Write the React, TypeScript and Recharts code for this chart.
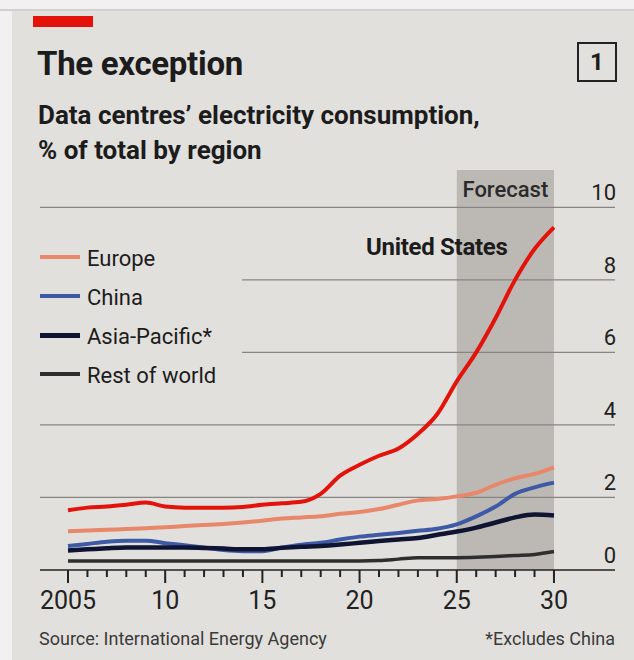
import React from "react";
import { LineChart, Line, XAxis, YAxis, ReferenceArea, ReferenceLine } from "recharts";

const years = [2005, 2006, 2007, 2008, 2009, 2010, 2011, 2012, 2013, 2014, 2015, 2016, 2017, 2018, 2019, 2020, 2021, 2022, 2023, 2024, 2025, 2026, 2027, 2028, 2029, 2030];
const unitedStates = [1.65, 1.72, 1.75, 1.8, 1.86, 1.75, 1.72, 1.72, 1.72, 1.74, 1.8, 1.84, 1.88, 2.1, 2.6, 2.9, 3.15, 3.35, 3.75, 4.3, 5.2, 6.0, 6.95, 8.0, 8.85, 9.45];
const europe = [1.07, 1.09, 1.11, 1.13, 1.15, 1.18, 1.21, 1.24, 1.27, 1.31, 1.36, 1.42, 1.45, 1.48, 1.55, 1.6, 1.68, 1.8, 1.92, 1.96, 2.03, 2.13, 2.35, 2.53, 2.65, 2.83];
const china = [0.66, 0.72, 0.78, 0.81, 0.81, 0.74, 0.68, 0.62, 0.55, 0.52, 0.52, 0.62, 0.7, 0.75, 0.84, 0.92, 0.97, 1.02, 1.08, 1.14, 1.26, 1.48, 1.75, 2.1, 2.28, 2.41];
const asiaPacific = [0.54, 0.57, 0.6, 0.62, 0.62, 0.62, 0.62, 0.61, 0.59, 0.57, 0.57, 0.61, 0.64, 0.66, 0.7, 0.75, 0.8, 0.84, 0.88, 0.97, 1.06, 1.17, 1.31, 1.45, 1.53, 1.5];
const restOfWorld = [0.25, 0.25, 0.25, 0.25, 0.25, 0.25, 0.25, 0.25, 0.25, 0.25, 0.25, 0.25, 0.25, 0.25, 0.25, 0.25, 0.26, 0.3, 0.34, 0.34, 0.34, 0.35, 0.37, 0.4, 0.43, 0.51];

const yTicks = [0, 2, 4, 6, 8, 10];
const gridValues = [2, 4, 6, 8, 10];
const xMajorTicks = [2005, 2010, 2015, 2020, 2025, 2030];
const xMajorLabels = ["2005", "10", "15", "20", "25", "30"];
const forecastStart = 2025;
const forecastEnd = 2030;
const xDomain: [number, number] = [2003.56, 2033.14];
const yDomain: [number, number] = [0, 11.03];

const legendItems = [
  { name: "Europe", color: "#e8876a", width: 4 },
  { name: "China", color: "#3e5aa6", width: 4 },
  { name: "Asia-Pacific*", color: "#0e1431", width: 5 },
  { name: "Rest of world", color: "#2e2e2e", width: 4 },
];

const data = years.map((year, i) => ({
  year,
  us: unitedStates[i],
  europe: europe[i],
  china: china[i],
  asia: asiaPacific[i],
  rest: restOfWorld[i],
}));

const FONT = "Roboto, 'Liberation Sans', sans-serif";
const INK = "#1c1c1c";
const PAPER = "#e2e0dc";

const XTick = (props: any) => {
  const { x, y, payload } = props;
  const v = payload.value as number;
  const idx = xMajorTicks.indexOf(v);
  const major = idx >= 0;
  return (
    <g>
      <line x1={x} x2={x} y1={y} y2={y + (major ? 13 : 7)} stroke="#222" strokeWidth={2} />
      {major && (
        <text x={x} y={y + 39} textAnchor="middle" fontSize={25} fill="#222" fontFamily={FONT}>
          {xMajorLabels[idx]}
        </text>
      )}
    </g>
  );
};

const YTick = (props: any) => {
  const { x, y, payload } = props;
  return (
    <text x={x + 1} y={y - 7} textAnchor="end" fontSize={22} fill="#222" fontFamily={FONT}>
      {payload.value}
    </text>
  );
};

const ForecastLabel = (props: any) => {
  const { viewBox } = props;
  return (
    <text x={viewBox.x + viewBox.width / 2} y={viewBox.y + 27} textAnchor="middle" fontSize={22} fontWeight={500} fill="#2a2a2a" fontFamily={FONT}>
      Forecast
    </text>
  );
};

export default function App() {
  return (
    <div style={{ position: "relative", width: 634, height: 660, background: "#f2f0f1", overflow: "hidden", fontFamily: FONT, color: INK }}>
      <style>{"body{margin:0}"}</style>
      <div style={{ position: "absolute", left: 0, top: 9, width: 634, height: 2, background: "#d2cfd0" }} />
      <div style={{ position: "absolute", left: 12, top: 11, right: 0, bottom: 0, background: PAPER }} />
      <div style={{ position: "absolute", left: 33, top: 16, width: 60, height: 11, background: "#e3120b" }} />
      <div style={{ position: "absolute", left: 37, top: 47, fontSize: 33, lineHeight: "33px", fontWeight: 700, letterSpacing: -0.3, whiteSpace: "nowrap" }}>
        The exception
      </div>
      <div style={{ position: "absolute", left: 577, top: 42, width: 36, height: 36, border: "2.5px solid #222", display: "flex", alignItems: "center", justifyContent: "center", fontSize: 24, fontWeight: 700 }}>
        1
      </div>
      <div style={{ position: "absolute", left: 38, top: 102, fontSize: 26, lineHeight: "26px", fontWeight: 700, letterSpacing: 0, whiteSpace: "nowrap" }}>
        Data centres’ electricity consumption,
      </div>
      <div style={{ position: "absolute", left: 38, top: 137, fontSize: 26, lineHeight: "26px", fontWeight: 700, letterSpacing: 0, whiteSpace: "nowrap" }}>
        % of total by region
      </div>

      {/* shading layer */}
      <div style={{ position: "absolute", left: 0, top: 0 }}>
        <LineChart width={634} height={660} data={data} margin={{ top: 170, right: 19, bottom: 90, left: 40 }}>
          <XAxis hide type="number" dataKey="year" domain={xDomain} allowDataOverflow />
          <YAxis hide domain={yDomain} allowDataOverflow />
          <ReferenceArea x1={forecastStart} x2={forecastEnd} fill="#bcb9b4" fillOpacity={1} stroke="none" label={<ForecastLabel />} />
        </LineChart>
      </div>

      {/* main layer */}
      <div style={{ position: "absolute", left: 0, top: 0 }}>
        <LineChart width={634} height={660} data={data} margin={{ top: 170, right: 19, bottom: 30, left: 40 }}>
          {gridValues.map((v) => (
            <ReferenceLine key={v} y={v} stroke="#878582" strokeWidth={1.2} />
          ))}
          <XAxis
            type="number"
            dataKey="year"
            domain={xDomain}
            allowDataOverflow
            ticks={years}
            interval={0}
            tickSize={0}
            tickMargin={0}
            tickLine={false}
            axisLine={{ stroke: "#222", strokeWidth: 1.5 }}
            tick={<XTick />}
            height={60}
          />
          <YAxis
            orientation="right"
            mirror
            domain={yDomain}
            allowDataOverflow
            ticks={yTicks}
            interval={0}
            tickSize={0}
            tickMargin={0}
            tickLine={false}
            axisLine={false}
            tick={<YTick />}
          />
          <Line type="monotone" dataKey="rest" stroke="#2e2e2e" strokeWidth={3.5} dot={false} activeDot={false} isAnimationActive={false} />
          <Line type="monotone" dataKey="china" stroke="#3e5aa6" strokeWidth={4} dot={false} activeDot={false} isAnimationActive={false} />
          <Line type="monotone" dataKey="asia" stroke="#0e1431" strokeWidth={4.5} dot={false} activeDot={false} isAnimationActive={false} />
          <Line type="monotone" dataKey="europe" stroke="#e8876a" strokeWidth={4} dot={false} activeDot={false} isAnimationActive={false} />
          <Line type="monotone" dataKey="us" stroke="#e3120b" strokeWidth={4} dot={false} activeDot={false} isAnimationActive={false} />
        </LineChart>
      </div>

      <div style={{ position: "absolute", left: 366, top: 235, fontSize: 24, lineHeight: "24px", fontWeight: 700, letterSpacing: -0.3, whiteSpace: "nowrap" }}>
        United States
      </div>

      <div style={{ position: "absolute", left: 34, top: 240, width: 208, height: 156, background: PAPER }}>
        {legendItems.map((item, i) => (
          <div key={item.name} style={{ position: "absolute", left: 0, top: 8 + i * 39, height: 22, width: 208 }}>
            <div style={{ position: "absolute", left: 6, top: 9 - item.width / 2, width: 40, height: item.width, background: item.color }} />
            <div style={{ position: "absolute", left: 53, top: 0, fontSize: 22, lineHeight: "22px", whiteSpace: "nowrap" }}>{item.name}</div>
          </div>
        ))}
      </div>

      <div style={{ position: "absolute", left: 39, top: 630, fontSize: 18, lineHeight: "18px", color: "#3a3a3a", whiteSpace: "nowrap" }}>
        Source: International Energy Agency
      </div>
      <div style={{ position: "absolute", right: 19, top: 630, fontSize: 18, lineHeight: "18px", color: "#3a3a3a", whiteSpace: "nowrap" }}>
        *Excludes China
      </div>
    </div>
  );
}
